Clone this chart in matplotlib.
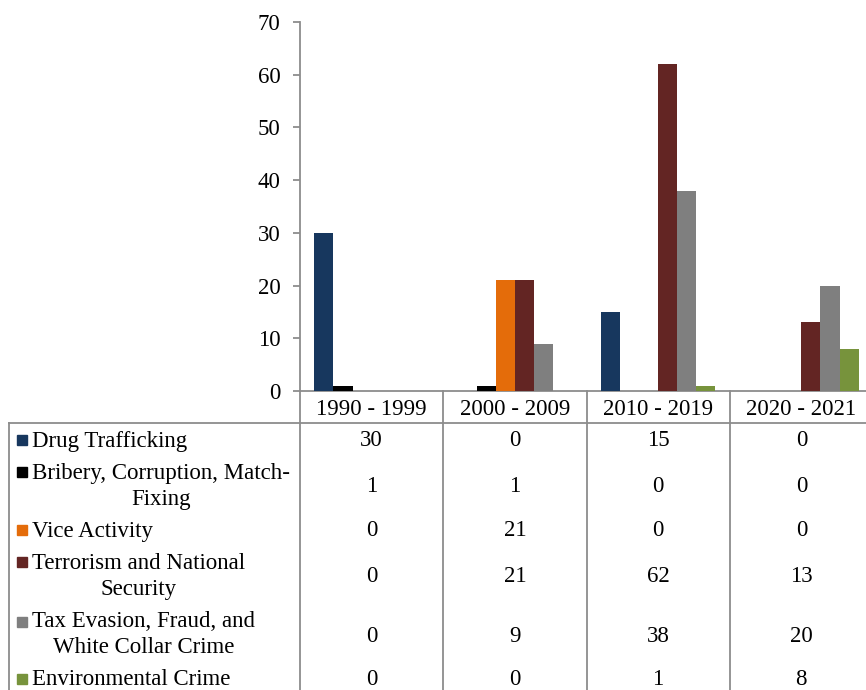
import matplotlib
matplotlib.use("Agg")
import numpy as np
import matplotlib.pyplot as plt
import matplotlib.transforms as mtransforms

plt.rcParams["font.family"] = ["Liberation Serif", "DejaVu Serif"]

periods = ["1990 - 1999", "2000 - 2009", "2010 - 2019", "2020 - 2021"]
series_names = [
    "Drug Trafficking",
    "Bribery, Corruption, Match-\nFixing",
    "Vice Activity",
    "Terrorism and National\nSecurity",
    "Tax Evasion, Fraud, and\nWhite Collar Crime",
    "Environmental Crime",
]
drug = [30, 0, 15, 0]
bribery = [1, 1, 0, 0]
vice = [0, 21, 0, 0]
terrorism = [0, 21, 62, 13]
tax = [0, 9, 38, 20]
environmental = [0, 0, 1, 8]
series_values = [drug, bribery, vice, terrorism, tax, environmental]
colors = ["#17375E", "#000000", "#E46C0A", "#632523", "#7F7F7F", "#77933C"]

FS = 16.5
W, H = 866, 690
fig = plt.figure(figsize=(W / 100, H / 100), dpi=100)

# plot area in pixels (right edge runs past the picture like the source)
left_px, right_px, top_px, bottom_px = 300, 873, 22, 391
ax = fig.add_axes([left_px / W, 1 - bottom_px / H,
                   (right_px - left_px) / W, (bottom_px - top_px) / H])

x = np.arange(len(periods))
w = 1 / 7.5
for i, (vals, c) in enumerate(zip(series_values, colors)):
    ax.bar(x + (i - 2.5) * w, vals, w, color=c, zorder=3)

ax.set_xlim(-0.5, len(periods) - 0.5)
ax.set_ylim(0, 70)
ax.set_yticks(range(0, 71, 10))
ax.set_xticks([])
grey = "#8C8C8C"
for s in ["top", "right"]:
    ax.spines[s].set_visible(False)
for s in ["left", "bottom"]:
    ax.spines[s].set_color(grey)
    ax.spines[s].set_linewidth(1.3)
ax.tick_params(axis="y", length=5, width=1.3, color=grey, pad=9, labelsize=FS)

# data table under the axis
def ypos(px):
    return (bottom_px - px) / (bottom_px - top_px)

def xpos(px):
    return (px - left_px) / (right_px - left_px)

blend = mtransforms.blended_transform_factory(ax.transData, ax.transAxes)
line_kw = dict(color=grey, lw=1.3, clip_on=False, zorder=1)

ax.plot([xpos(9), 1.2], [ypos(423), ypos(423)], transform=ax.transAxes, **line_kw)
ax.plot([xpos(9), xpos(9)], [ypos(423), ypos(700)], transform=ax.transAxes, **line_kw)
for b in np.arange(len(periods) + 1) - 0.5:
    ax.plot([b, b], [0, ypos(700)], transform=blend, **line_kw)

for xi, p in zip(x, periods):
    ax.text(xi, ypos(415), p, transform=blend, ha="center", va="baseline", fontsize=FS)

# pixel baselines: first label line (for the marker), last label line, values
first_base = [446.5, 478, 536.5, 568, 628, 685]
last_base = [446.5, 505, 536.5, 595, 653, 685]
value_base = [446.5, 491.5, 536.5, 582.5, 641.5, 685]
for name, vals, c, fb, lb, vb in zip(series_names, series_values, colors,
                                     first_base, last_base, value_base):
    ax.plot([xpos(22)], [ypos(fb - 6.5)], marker="s", markersize=7.2, color=c,
            transform=ax.transAxes, clip_on=False, linestyle="none")
    ax.text(xpos(32), ypos(lb), name, transform=ax.transAxes, ha="left", va="baseline",
            multialignment="center", fontsize=FS, linespacing=1.33)
    for xi, v in zip(x, vals):
        ax.text(xi, ypos(vb), str(v), transform=blend, ha="center", va="baseline", fontsize=FS)

fig.savefig("out.png", dpi=100)
